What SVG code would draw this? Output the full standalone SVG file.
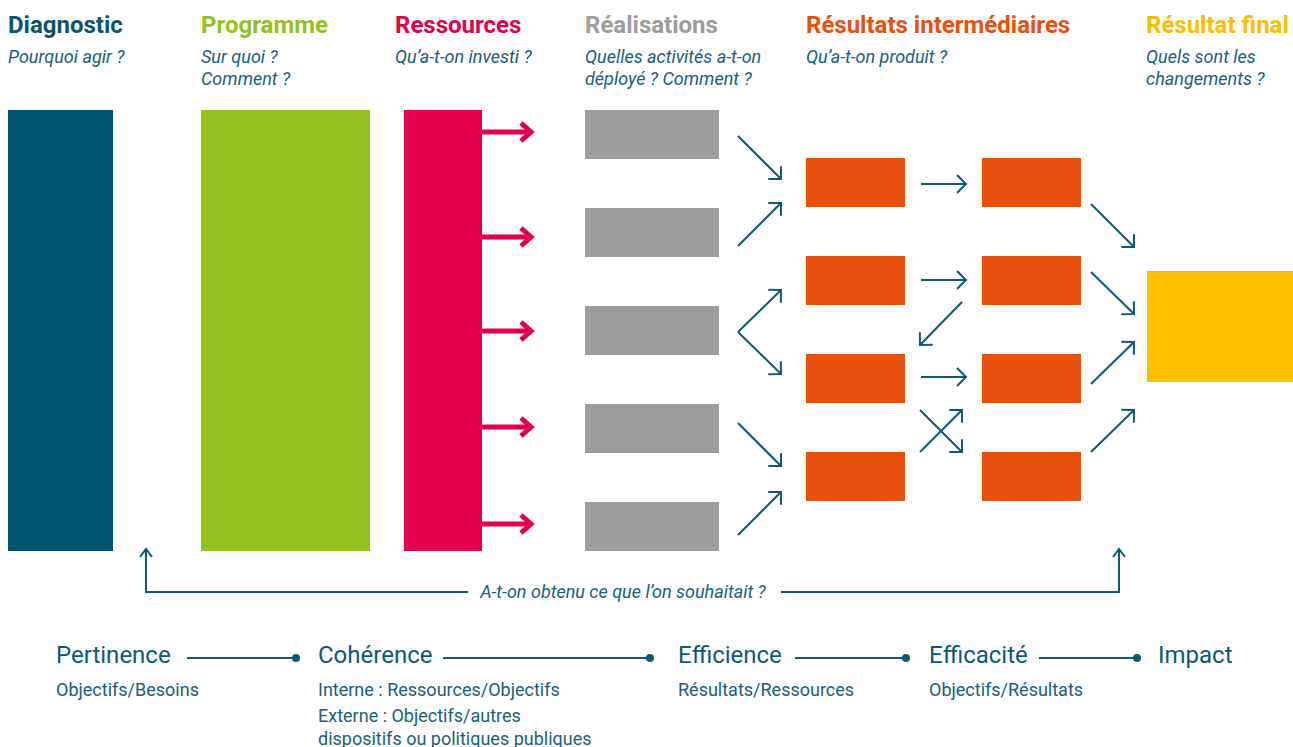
<svg xmlns="http://www.w3.org/2000/svg" width="1293" height="747" viewBox="0 0 1293 747">
<style>
.t{font-family:Roboto,"Liberation Sans",sans-serif;font-weight:700;font-size:24px}
.q{font-family:Roboto,"Liberation Sans",sans-serif;font-style:italic;font-size:18px;fill:#1b6079}
.c{fill:none;stroke:#0d5a73;stroke-width:2}
.r{fill:none;stroke:#e4004b;stroke-width:5}
.h{font-family:Roboto,"Liberation Sans",sans-serif;font-size:24px;fill:#0d5a73}
.s{font-family:Roboto,"Liberation Sans",sans-serif;font-size:18px;fill:#1b6079}
.gray{fill:#9d9d9c}.or{fill:#e9500e}
</style>
<defs>
<marker id="ah" viewBox="-12 -12 14 24" markerWidth="14" markerHeight="24" refX="0" refY="0" orient="auto" markerUnits="userSpaceOnUse"><path d="M-9,-9 L0,0 L-9,9" fill="none" stroke="#0d5a73" stroke-width="2"/></marker>
<marker id="rh" viewBox="-14 -12 18 24" markerWidth="18" markerHeight="24" refX="0" refY="0" orient="auto" markerUnits="userSpaceOnUse"><path d="M-10,-9 L0,0 L-10,9" fill="none" stroke="#e4004b" stroke-width="5"/></marker>
<marker id="fh" viewBox="-12 -10 14 20" markerWidth="14" markerHeight="20" refX="0" refY="0" orient="auto" markerUnits="userSpaceOnUse"><path d="M-8,-6 L0,0 L-8,6" fill="none" stroke="#0d5a73" stroke-width="2"/></marker>
</defs>

<g id="headers">
<text class="t" x="8" y="33" fill="#0d5470">Diagnostic</text>
<text class="q" x="8" y="63">Pourquoi agir ?</text>
<text class="t" x="201" y="33" fill="#95c11f">Programme</text>
<text class="q" x="201" y="63">Sur quoi ?</text>
<text class="q" x="201" y="85">Comment ?</text>
<text class="t" x="395" y="33" fill="#e4004b">Ressources</text>
<text class="q" x="395" y="63">Qu’a-t-on investi ?</text>
<text class="t" x="585" y="33" fill="#9d9d9c">Réalisations</text>
<text class="q" x="585" y="63">Quelles activités a-t-on</text>
<text class="q" x="585" y="85">déployé ? Comment ?</text>
<text class="t" x="806" y="33" fill="#e9500e">Résultats intermédiaires</text>
<text class="q" x="806" y="63">Qu’a-t-on produit ?</text>
<text class="t" x="1146" y="33" fill="#fcbf00">Résultat final</text>
<text class="q" x="1146" y="63">Quels sont les</text>
<text class="q" x="1146" y="85">changements ?</text>
</g>

<g id="diagnostic"><rect x="8" y="110" width="105" height="441" fill="#005470"/></g>
<g id="programme"><rect x="201" y="110" width="169" height="441" fill="#95c11f"/></g>
<g id="ressources"><rect x="404" y="110" width="78" height="441" fill="#e4004b"/></g>

<g id="realisations">
<rect class="gray" x="585" y="110" width="134" height="49"/>
<rect class="gray" x="585" y="208" width="134" height="49"/>
<rect class="gray" x="585" y="306" width="134" height="49"/>
<rect class="gray" x="585" y="404" width="134" height="49"/>
<rect class="gray" x="585" y="502" width="134" height="49"/>
</g>

<g id="resultats-intermediaires">
<rect class="or" x="806" y="158" width="99" height="49"/>
<rect class="or" x="806" y="256" width="99" height="49"/>
<rect class="or" x="806" y="354" width="99" height="49"/>
<rect class="or" x="806" y="452" width="99" height="49"/>
<rect class="or" x="982" y="158" width="99" height="49"/>
<rect class="or" x="982" y="256" width="99" height="49"/>
<rect class="or" x="982" y="354" width="99" height="49"/>
<rect class="or" x="982" y="452" width="99" height="49"/>
</g>

<g id="resultat-final"><rect x="1147" y="271" width="146" height="111" fill="#fcc000"/></g>

<g id="connectors">
<line class="r" x1="482" y1="132" x2="531" y2="132" marker-end="url(#rh)"/>
<line class="r" x1="482" y1="237" x2="531" y2="237" marker-end="url(#rh)"/>
<line class="r" x1="482" y1="331" x2="531" y2="331" marker-end="url(#rh)"/>
<line class="r" x1="482" y1="427" x2="531" y2="427" marker-end="url(#rh)"/>
<line class="r" x1="482" y1="524" x2="531" y2="524" marker-end="url(#rh)"/>

<line class="c" x1="738" y1="136" x2="781" y2="179" marker-end="url(#ah)"/>
<line class="c" x1="738" y1="246" x2="781" y2="203" marker-end="url(#ah)"/>
<line class="c" x1="738" y1="332" x2="781" y2="290" marker-end="url(#ah)"/>
<line class="c" x1="738" y1="332" x2="781" y2="374" marker-end="url(#ah)"/>
<line class="c" x1="738" y1="423" x2="781" y2="466" marker-end="url(#ah)"/>
<line class="c" x1="738" y1="535" x2="781" y2="492" marker-end="url(#ah)"/>

<line class="c" x1="921" y1="184" x2="966" y2="184" marker-end="url(#ah)"/>
<line class="c" x1="921" y1="280" x2="966" y2="280" marker-end="url(#ah)"/>
<line class="c" x1="962" y1="302" x2="920" y2="345" marker-end="url(#ah)"/>
<line class="c" x1="921" y1="377" x2="966" y2="377" marker-end="url(#ah)"/>
<line class="c" x1="920" y1="410" x2="962" y2="452" marker-end="url(#ah)"/>
<line class="c" x1="920" y1="452" x2="962" y2="410" marker-end="url(#ah)"/>

<line class="c" x1="1091" y1="204" x2="1134" y2="247" marker-end="url(#ah)"/>
<line class="c" x1="1091" y1="272" x2="1134" y2="314" marker-end="url(#ah)"/>
<line class="c" x1="1091" y1="384" x2="1134" y2="342" marker-end="url(#ah)"/>
<line class="c" x1="1091" y1="452" x2="1134" y2="410" marker-end="url(#ah)"/>

<polyline class="c" points="468,592 146,592 146,549" marker-end="url(#fh)"/>
<polyline class="c" points="781,592 1119,592 1119,549" marker-end="url(#fh)"/>
</g>
<text class="q" x="623" y="598" text-anchor="middle">A-t-on obtenu ce que l’on souhaitait ?</text>

<g id="criteres">
<text class="h" x="56" y="663">Pertinence</text>
<text class="s" x="56" y="696">Objectifs/Besoins</text>
<line class="c" x1="187" y1="658" x2="296" y2="658"/><circle cx="296" cy="658" r="4" fill="#0d5a73"/>
<text class="h" x="318" y="663">Cohérence</text>
<text class="s" x="318" y="696">Interne : Ressources/Objectifs</text>
<text class="s" x="318" y="722">Externe : Objectifs/autres</text>
<text class="s" x="318" y="745">dispositifs ou politiques publiques</text>
<line class="c" x1="443" y1="658" x2="650" y2="658"/><circle cx="650" cy="658" r="4" fill="#0d5a73"/>
<text class="h" x="678" y="663">Efficience</text>
<text class="s" x="678" y="696">Résultats/Ressources</text>
<line class="c" x1="795" y1="658" x2="906" y2="658"/><circle cx="906" cy="658" r="4" fill="#0d5a73"/>
<text class="h" x="929" y="663">Efficacité</text>
<text class="s" x="929" y="696">Objectifs/Résultats</text>
<line class="c" x1="1039" y1="658" x2="1137" y2="658"/><circle cx="1137" cy="658" r="4" fill="#0d5a73"/>
<text class="h" x="1158" y="663">Impact</text>
</g>
</svg>
